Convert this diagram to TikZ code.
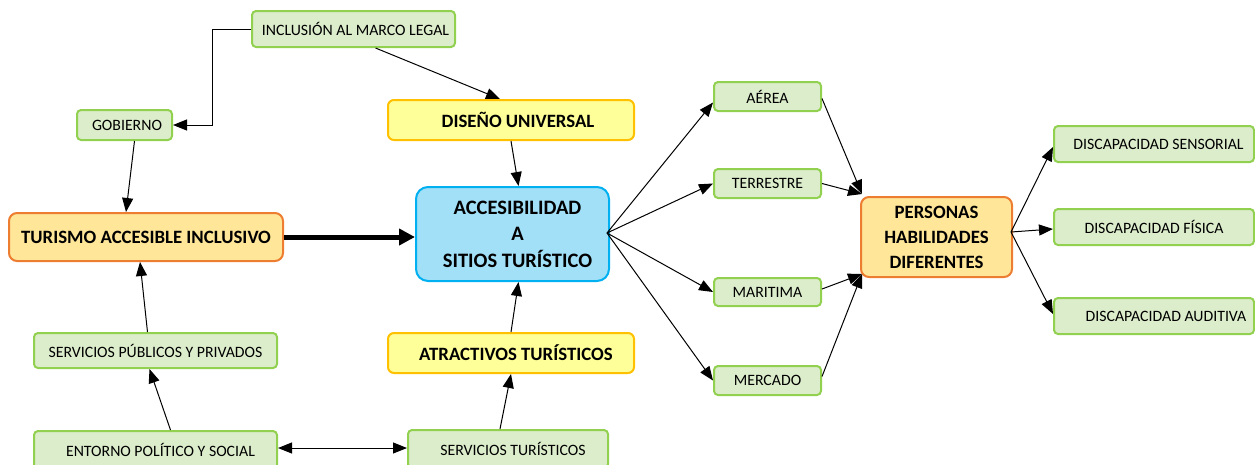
\documentclass[tikz,border=0pt]{standalone}
\usepackage{fontspec}
\setmainfont{Carlito}
\usetikzlibrary{arrows.meta}
\definecolor{gfill}{HTML}{DCEDCB}
\definecolor{gdraw}{HTML}{92D050}
\definecolor{yfill}{HTML}{FFFF99}
\definecolor{ydraw}{HTML}{FFC000}
\definecolor{ofill}{HTML}{FFE699}
\definecolor{odraw}{HTML}{ED7D31}
\definecolor{bfill}{HTML}{A2E0F8}
\definecolor{bdraw}{HTML}{00B0F0}
\tikzset{
  base/.style={draw, line width=2pt, rounded corners=4pt, inner sep=0pt, align=center},
  gbox/.style={base, fill=gfill, draw=gdraw, font=\fontsize{15.8}{19}\selectfont},
  ybox/.style={base, fill=yfill, draw=ydraw, rounded corners=6pt, font=\bfseries\fontsize{18.8}{22}\selectfont},
  obox/.style={base, fill=ofill, draw=odraw, rounded corners=8pt, font=\bfseries\fontsize{18.8}{25}\selectfont},
  bbox/.style={base, fill=bfill, draw=bdraw, rounded corners=12pt, font=\bfseries\fontsize{20.5}{26.5}\selectfont},
  conn/.style={line width=1pt, -{Triangle[length=14pt,width=11pt]}},
}
\begin{document}
\begin{tikzpicture}[x=1pt,y=-1pt]
\useasboundingbox (0,0) rectangle (1255,464);
\clip (0,0) rectangle (1255,464);
% nodes
\node[gbox, minimum width=203pt, minimum height=36pt] (inc) at (353.5,29) {\hspace*{4pt}INCLUSIÓN AL MARCO LEGAL};
\node[gbox, minimum width=95pt, minimum height=30pt] (gob) at (124.5,125) {\hspace*{5pt}GOBIERNO};
\node[ybox, minimum width=246pt, minimum height=40pt] (dis) at (511,120) {\hspace*{14pt}DISEÑO UNIVERSAL};
\node[obox, minimum width=274pt, minimum height=48pt] (tur) at (146,237) {TURISMO ACCESIBLE INCLUSIVO};
\node[bbox, minimum width=193pt, minimum height=94pt] (acc) at (512.5,234) {\hspace*{10pt}ACCESIBILIDAD\\\hspace*{10pt}A\\\hspace*{10pt}SITIOS TURÍSTICO};
\node[gbox, minimum width=243pt, minimum height=35pt] (spp) at (155.5,350.5) {SERVICIOS PÚBLICOS Y PRIVADOS};
\node[ybox, minimum width=246pt, minimum height=40pt] (atr) at (511,353) {\hspace*{10pt}ATRACTIVOS TURÍSTICOS};
\node[gbox, minimum width=243pt, minimum height=38pt] (ent) at (155.5,450) {\hspace*{10pt}ENTORNO POLÍTICO Y SOCIAL};
\node[gbox, minimum width=200pt, minimum height=38pt] (stu) at (508,449) {\hspace*{10pt}SERVICIOS TURÍSTICOS};
\node[gbox, minimum width=107pt, minimum height=29pt] (aer) at (767.5,96.5) {AÉREA};
\node[gbox, minimum width=107pt, minimum height=29pt] (ter) at (767.5,183.5) {TERRESTRE};
\node[gbox, minimum width=107pt, minimum height=28pt] (mar) at (767.5,292) {MARITIMA};
\node[gbox, minimum width=107pt, minimum height=29pt] (mer) at (767.5,380.5) {MERCADO};
\node[obox, minimum width=151pt, minimum height=80pt] (per) at (936.5,237) {PERSONAS\\HABILIDADES\\DIFERENTES};
\node[gbox, minimum width=200pt, minimum height=36pt] (sen) at (1154,144) {\hspace*{9pt}DISCAPACIDAD SENSORIAL};
\node[gbox, minimum width=200pt, minimum height=36pt] (fis) at (1154,227) {DISCAPACIDAD FÍSICA};
\node[gbox, minimum width=200pt, minimum height=36pt] (aud) at (1154,316) {\hspace*{24pt}DISCAPACIDAD AUDITIVA};
% connectors
\draw[conn] (inc.west) -| (212,125) -- (gob.east);
\draw[conn] ([xshift=22pt]inc.south) -- ([xshift=-11pt]dis.north);
\draw[conn] ([xshift=10pt]gob.south) -- ([xshift=-20pt]tur.north);
\draw[conn] (dis.south) -- ([xshift=6pt]acc.north);
\draw[line width=5pt, -{Triangle[length=16pt,width=16pt]}] (tur.east) -- (acc.west |- tur.east);
\draw[conn] ([xshift=-8pt]spp.north) -- ([xshift=-6pt]tur.south);
\draw[conn] ([xshift=15pt]ent.north) -- ([xshift=-6pt]spp.south);
\draw[line width=1pt, {Triangle[length=14pt,width=11pt]}-{Triangle[length=14pt,width=11pt]}] (ent.east |- 0,448) -- (stu.west |- 0,448);
\draw[conn] ([xshift=-8pt]stu.north) -- (atr.south);
\draw[conn] (atr.north) -- ([xshift=6pt]acc.south);
\coordinate (accE) at (607,233);
\draw[conn] (accE) -- ([yshift=-6pt]aer.west);
\draw[conn] (accE) -- (ter.west);
\draw[conn] (accE) -- (mar.west);
\draw[conn] (accE) -- (mer.west);
\coordinate (perT) at (862,194);
\coordinate (perB) at (862,274);
\draw[conn] ([yshift=-2pt]aer.east) -- (perT);
\draw[conn] (ter.east) -- (perT);
\draw[conn] ([yshift=3pt]mar.east) -- (perB);
\draw[conn] ([yshift=4pt]mer.east) -- (perB);
\coordinate (perE) at (1011,232);
\draw[conn] (perE) -- ([yshift=-3pt]sen.west);
\draw[conn] (perE) -- ([yshift=-2pt]fis.west);
\draw[conn] (perE) -- ([yshift=2pt]aud.west);
\end{tikzpicture}
\end{document}
